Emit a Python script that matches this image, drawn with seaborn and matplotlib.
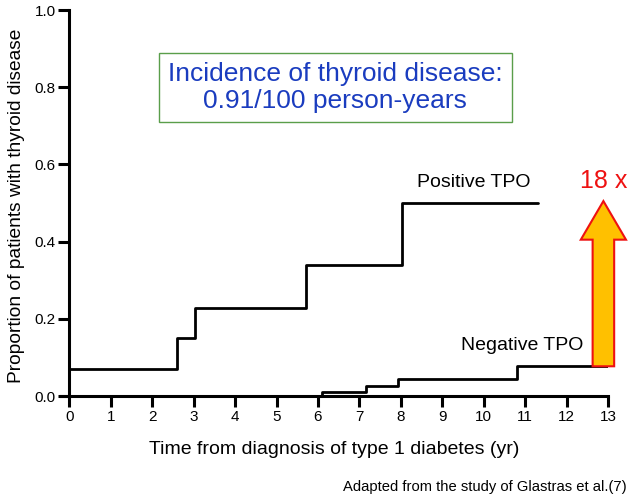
import matplotlib
matplotlib.use("Agg")
import matplotlib.pyplot as plt
import seaborn as sns
import pandas as pd
from matplotlib.patches import FancyArrow

sns.set_style("ticks")
plt.rcParams['font.family'] = ['Liberation Sans', 'DejaVu Sans']
plt.rcParams['text.color'] = 'black'
plt.rcParams['axes.labelcolor'] = 'black'
plt.rcParams['xtick.color'] = 'black'
plt.rcParams['ytick.color'] = 'black'
plt.rcParams['axes.edgecolor'] = 'black'

# Data
pos_time = [0, 2.6, 3.03, 5.72, 8.03, 11.3]
pos_prop = [0.07, 0.15, 0.228, 0.34, 0.50, 0.50]
neg_time = [4.9, 6.1, 7.17, 7.93, 10.8, 13.0]
neg_prop = [0.0, 0.01, 0.027, 0.043, 0.077, 0.077]
x_ticks = list(range(0, 14))
y_ticks = [0.0, 0.2, 0.4, 0.6, 0.8, 1.0]

df = pd.concat([
    pd.DataFrame({"t": pos_time, "p": pos_prop, "g": "Positive TPO"}),
    pd.DataFrame({"t": neg_time, "p": neg_prop, "g": "Negative TPO"}),
])

fig = plt.figure(figsize=(6.3, 5), dpi=100)
ax = fig.add_axes([0.097, 0.208, 0.868, 0.772])

sns.lineplot(data=df, x="t", y="p", units="g", estimator=None, sort=False,
             drawstyle="steps-post", color="black", lw=2, ax=ax, legend=False)

ax.set_xlim(-0.2, 13)
ax.set_ylim(0, 1.0)
ax.spines['left'].set_position(('data', 0))
ax.spines['top'].set_visible(False)
ax.spines['right'].set_visible(False)
for s in ['left', 'bottom']:
    ax.spines[s].set_linewidth(2.2)
    ax.spines[s].set_color('black')
ax.set_xticks(x_ticks)
ax.set_xticklabels([str(v) for v in x_ticks])
ax.set_yticks(y_ticks)
ax.set_yticklabels([f"{v:.1f}" for v in y_ticks])
ax.tick_params(axis='both', width=2.2, length=8, labelsize=11, color='black',
               labelcolor='black', pad=2)
ax.set_xlabel("Time from diagnosis of type 1 diabetes (yr)", fontsize=14, labelpad=12)
ax.set_ylabel("Proportion of patients with thyroid disease", fontsize=13.8)
ax.yaxis.set_label_coords(-0.066, 0.492)

ax.text(0.501, 0.80, "Incidence of thyroid disease:\n0.91/100 person-years",
        transform=ax.transAxes, ha='center', va='center', fontsize=19,
        color='#1a3cbf', linespacing=1.15,
        bbox=dict(boxstyle='square,pad=0.35', fc='white', ec='#5a9e4a', lw=1))

ax.text(11.12, 0.541, "Positive TPO", ha='right', va='baseline', fontsize=14)
ax.text(12.4, 0.119, "Negative TPO", ha='right', va='baseline', fontsize=14)
ax.text(12.9, 0.54, "18 x", ha='center', va='baseline', fontsize=18, color='#ee1111')

arr = FancyArrow(12.89, neg_prop[-1], 0, 0.505 - neg_prop[-1], width=0.52,
                 head_width=1.09, head_length=0.1, length_includes_head=True,
                 fc='#ffc000', ec='#ee1111', lw=1.5, clip_on=False, zorder=5)
ax.add_patch(arr)

fig.text(0.995, 0.026, "Adapted from the study of Glastras et al.(7)", ha='right',
         va='center', fontsize=10.6)

fig.savefig("out.png", dpi=100)
